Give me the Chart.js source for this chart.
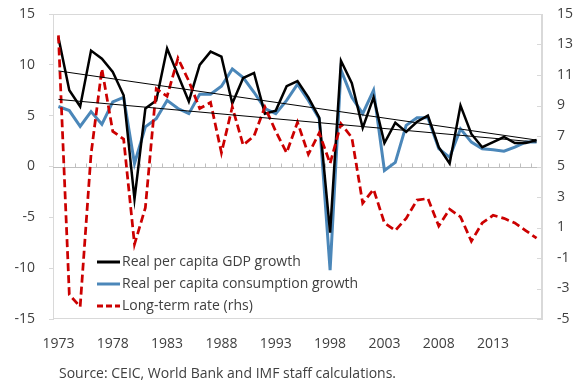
<!DOCTYPE html>
<html>
<head>
<meta charset="utf-8">
<script src="https://cdn.jsdelivr.net/npm/chart.js@4.4.1/dist/chart.umd.min.js"></script>
<style>
  html, body { margin: 0; padding: 0; background: #ffffff; }
  #wrap { width: 580px; height: 385px; }
</style>
</head>
<body>
<div id="wrap"><canvas id="c" width="580" height="385"></canvas></div>
<script>
// Years on the category axis
const years = ['1973','1974','1975','1976','1977','1978','1979','1980','1981','1982',
  '1983','1984','1985','1986','1987','1988','1989','1990','1991','1992',
  '1993','1994','1995','1996','1997','1998','1999','2000','2001','2002',
  '2003','2004','2005','2006','2007','2008','2009','2010','2011','2012',
  '2013','2014','2015','2016','2017'];

// Real per capita GDP growth, percent (left axis)
const gdpGrowth = [12.7, 7.5, 5.9, 11.4, 10.6, 9.3, 7.0, -3.2, 5.7, 6.5,
  11.6, 9.0, 6.4, 10.0, 11.3, 10.8, 6.2, 8.7, 9.2, 5.2,
  5.5, 7.9, 8.4, 6.8, 4.8, -6.5, 10.4, 8.2, 3.8, 6.8,
  2.3, 4.3, 3.4, 4.4, 5.0, 1.9, 0.3, 6.0, 3.2, 1.9,
  2.4, 2.9, 2.3, 2.3, 2.6];

// Real per capita consumption growth, percent (left axis)
const consGrowth = [5.9, 5.5, 3.95, 5.4, 4.15, 6.35, 6.8, 0.3, 3.9, 4.7,
  6.5, 5.7, 5.2, 7.1, 7.1, 7.9, 9.6, 8.75, 7.3, 5.7,
  5.2, 6.5, 8.1, 6.5, 4.7, -10.2, 9.5, 6.8, 5.2, 7.5,
  -0.4, 0.4, 4.05, 4.8, 4.8, 1.75, 0.9, 3.7, 2.4, 1.75,
  1.65, 1.5, 1.9, 2.4, 2.4];

// Long-term interest rate, percent (right axis)
const longRate = [13.6, -3.4, -4.2, 5.8, 11.4, 7.3, 6.8, -0.1, 2.3, 10.1,
  9.6, 12.1, 10.6, 8.8, 9.2, 5.9, 8.9, 6.4, 7.0, 8.9,
  7.3, 5.9, 7.9, 5.8, 7.2, 5.2, 7.8, 6.9, 2.6, 3.5,
  1.3, 0.8, 1.6, 2.8, 2.9, 1.1, 2.2, 1.7, 0.1, 1.3,
  1.8, 1.6, 1.3, 0.8, 0.3];

// Linear trend lines: value at the first and at the last year
const gdpTrend = [9.4, 2.6];
const consTrend = [6.6, 2.4];

const seriesNames = ['Real per capita GDP growth', 'Real per capita consumption growth', 'Long-term rate (rhs)'];
const sourceNote = 'Source: CEIC, World Bank and IMF staff calculations.';

const FONT = "'Open Sans', 'Noto Sans', sans-serif";
const TEXT = '#404040';
const FRAME = '#d9d9d9';
const COLORS = { gdp: '#000000', cons: '#4b87b9', rate: '#cc0000' };

function trendSeries(ends) {
  return years.map((y, i) => i === 0 ? ends[0] : (i === years.length - 1 ? ends[1] : null));
}

// Plot frame, zero line with category ticks, inward ticks on the right axis
const frameAndAxes = {
  id: 'frameAndAxes',
  beforeDatasetsDraw(chart) {
    const { ctx, chartArea: a, scales } = chart;
    ctx.save();
    ctx.strokeStyle = FRAME;
    ctx.lineWidth = 1;
    ctx.strokeRect(a.left + 0.5, a.top + 0.5, a.right - a.left - 1, a.bottom - a.top - 1);

    const y0 = Math.round(scales.y.getPixelForValue(0)) + 0.5;
    ctx.strokeStyle = '#bfbfbf';
    ctx.beginPath();
    ctx.moveTo(a.left, y0);
    ctx.lineTo(a.right, y0);
    const step = scales.x.width / years.length;
    for (let i = 1; i < years.length; i++) {
      const x = Math.round(scales.x.left + i * step) + 0.5;
      ctx.moveTo(x, y0);
      ctx.lineTo(x, y0 - 4);
    }
    ctx.stroke();

    ctx.strokeStyle = FRAME;
    ctx.beginPath();
    scales.y1.ticks.forEach(t => {
      const y = Math.round(scales.y1.getPixelForValue(t.value)) + 0.5;
      ctx.moveTo(a.right - 5, y);
      ctx.lineTo(a.right, y);
    });
    ctx.stroke();
    ctx.restore();
  }
};

// Legend inside the plot (lower left) and the source note under the chart
const legendAndNote = {
  id: 'legendAndNote',
  afterDraw(chart) {
    const { ctx, chartArea: a } = chart;
    ctx.save();
    ctx.font = '14px ' + FONT;
    ctx.fillStyle = TEXT;
    ctx.textBaseline = 'middle';
    const rows = [
      { name: seriesNames[0], color: COLORS.gdp, width: 3, dash: [] },
      { name: seriesNames[1], color: COLORS.cons, width: 3, dash: [] },
      { name: seriesNames[2], color: COLORS.rate, width: 3, dash: [6, 3] }
    ];
    const x0 = a.left + 44;
    rows.forEach((r, i) => {
      const y = a.bottom - 57 + i * 22;
      ctx.strokeStyle = r.color;
      ctx.lineWidth = r.width;
      ctx.setLineDash(r.dash);
      ctx.beginPath();
      ctx.moveTo(x0, y);
      ctx.lineTo(x0 + 23, y);
      ctx.stroke();
      ctx.setLineDash([]);
      ctx.fillText(r.name, x0 + 25, y);
    });
    ctx.textAlign = 'left';
    ctx.fillText(sourceNote, a.left + 6, 374);
    ctx.restore();
  }
};

// Keep the plot area fixed: no extra room reserved for half tick labels
function noVerticalPadding(s) { s.paddingTop = 0; s.paddingBottom = 0; }

new Chart(document.getElementById('c'), {
  type: 'line',
  data: {
    labels: years,
    datasets: [
      { label: 'GDP trend', data: trendSeries(gdpTrend), borderColor: '#000000', borderWidth: 1,
        spanGaps: true, pointRadius: 0, yAxisID: 'y', order: 0 },
      { label: 'Consumption trend', data: trendSeries(consTrend), borderColor: '#000000', borderWidth: 1,
        spanGaps: true, pointRadius: 0, yAxisID: 'y', order: 0 },
      { label: seriesNames[2], data: longRate, borderColor: COLORS.rate, borderWidth: 2.75,
        borderDash: [8, 4], pointRadius: 0, yAxisID: 'y1', order: 1 },
      { label: seriesNames[0], data: gdpGrowth, borderColor: COLORS.gdp, borderWidth: 2.5,
        pointRadius: 0, yAxisID: 'y', order: 2 },
      { label: seriesNames[1], data: consGrowth, borderColor: COLORS.cons, borderWidth: 3,
        pointRadius: 0, yAxisID: 'y', order: 3 }
    ]
  },
  options: {
    responsive: false,
    animation: false,
    devicePixelRatio: 1,
    layout: { padding: { top: 14, bottom: 21, left: 0, right: 0 } },
    elements: { line: { tension: 0, borderCapStyle: 'butt', borderJoinStyle: 'miter' } },
    plugins: { legend: { display: false }, tooltip: { enabled: false }, title: { display: false } },
    scales: {
      x: {
        type: 'category',
        offset: true,
        grid: { display: false, drawTicks: false },
        border: { display: false },
        afterFit(s) { s.height = 45; },
        ticks: {
          autoSkip: false, maxRotation: 0, padding: 17,
          color: TEXT, font: { family: FONT, size: 14 },
          callback(v, i) { return i % 5 === 0 ? years[i] : ''; }
        }
      },
      y: {
        position: 'left',
        min: -15, max: 15,
        afterFit(s) { s.width = 53; noVerticalPadding(s); },
        grid: { drawOnChartArea: false, drawTicks: true, tickLength: 4, color: FRAME },
        border: { display: true, color: FRAME },
        ticks: { stepSize: 5, padding: 14, color: TEXT, font: { family: FONT, size: 14 } }
      },
      y1: {
        position: 'right',
        min: -5, max: 15,
        afterFit(s) { s.width = 38; noVerticalPadding(s); },
        grid: { display: false, drawTicks: false },
        border: { display: true, color: FRAME },
        ticks: { stepSize: 2, padding: 15, color: TEXT, font: { family: FONT, size: 14 } }
      }
    }
  },
  plugins: [frameAndAxes, legendAndNote]
});
</script>
</body>
</html>
